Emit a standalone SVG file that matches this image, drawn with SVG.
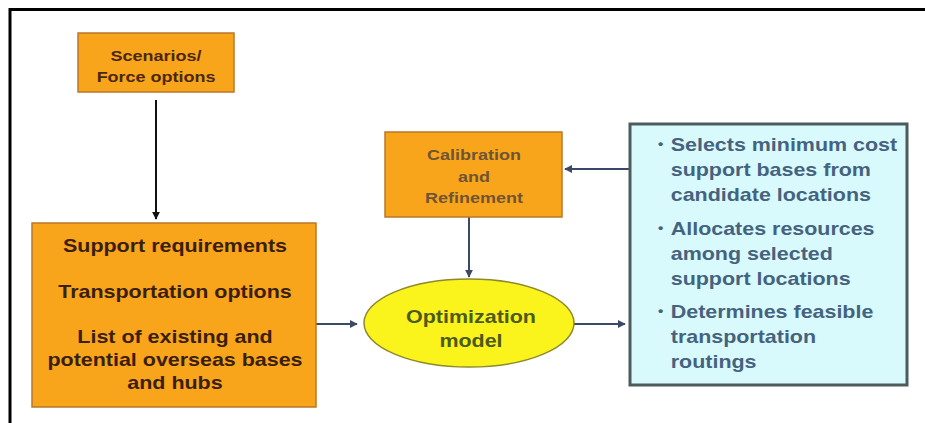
<svg xmlns="http://www.w3.org/2000/svg" width="925" height="423" viewBox="0 0 925 423">
<defs>
<style>
text{font-family:"Liberation Sans",Arial,sans-serif;font-weight:bold;text-anchor:middle}
.orange{fill:#f9a51c;stroke:#b9782a;stroke-width:1.5}
.t-brown{fill:#3a200c;font-size:18.5px}
.t-scen{fill:#4a2810;font-size:15.5px}
.t-cal{fill:#6e5434;font-size:15.5px}
.t-opt{fill:#4c5a1c;font-size:18.5px}
.t-blue{fill:#45627f;font-size:18.5px;text-anchor:start}
.bullet{fill:#45627f;font-size:13px;text-anchor:start}
.conn{stroke:#3b4866;stroke-width:2;fill:none}
.conn-k{stroke:#111;stroke-width:2;fill:none}
</style>
<marker id="ah" viewBox="0 0 10 10" refX="9" refY="5" markerWidth="4" markerHeight="4" orient="auto">
<path d="M0,0 L10,5 L0,10 z" fill="#3b4866"/>
</marker>
<marker id="ahk" viewBox="0 0 10 10" refX="9" refY="5" markerWidth="4" markerHeight="4" orient="auto">
<path d="M0,0 L10,5 L0,10 z" fill="#111"/>
</marker>
</defs>
<rect width="925" height="423" fill="#ffffff"/>
<path d="M10,423 L10,9.5 L925,9.5" fill="none" stroke="#000" stroke-width="3"/>

<g id="connectors">
<line class="conn-k" x1="156" y1="100" x2="156" y2="219" marker-end="url(#ahk)"/>
<line class="conn" x1="630" y1="169" x2="565" y2="169" marker-end="url(#ah)"/>
<line class="conn" x1="469" y1="217" x2="469" y2="277" marker-end="url(#ah)"/>
<line class="conn" x1="316" y1="324" x2="357" y2="324" marker-end="url(#ah)"/>
<line class="conn" x1="574" y1="324" x2="625" y2="324" marker-end="url(#ah)"/>
</g>

<g id="scenarios">
<rect class="orange" x="78" y="33" width="156" height="59"/>
<g transform="translate(156 0) scale(1.16 1)">
<text class="t-scen" x="0" y="61">Scenarios/</text>
<text class="t-scen" x="0" y="82">Force options</text>
</g>
</g>

<g id="inputs">
<rect class="orange" x="32" y="223" width="284" height="184" fill="#fca912"/>
<g transform="translate(175 0) scale(1.16 1)">
<text class="t-brown" x="0" y="252">Support requirements</text>
<text class="t-brown" x="0" y="298">Transportation options</text>
<text class="t-brown" x="0" y="343">List of existing and</text>
<text class="t-brown" x="0" y="366">potential overseas bases</text>
<text class="t-brown" x="0" y="389">and hubs</text>
</g>
</g>

<g id="calibration">
<rect class="orange" x="385" y="132" width="177" height="85" fill="#f6a128"/>
<g transform="translate(474 0) scale(1.16 1)">
<text class="t-cal" x="0" y="160">Calibration</text>
<text class="t-cal" x="0" y="182">and</text>
<text class="t-cal" x="0" y="203">Refinement</text>
</g>
</g>

<g id="optimization">
<ellipse cx="469" cy="323" rx="105" ry="44" fill="#fbf31c" stroke="#8d8a2a" stroke-width="1.5"/>
<g transform="translate(471 0) scale(1.16 1)">
<text class="t-opt" x="0" y="323">Optimization</text>
<text class="t-opt" x="0" y="347">model</text>
</g>
</g>

<g id="outputs">
<rect x="630" y="124" width="277" height="261" fill="#d9fafc" stroke="#4c5c5c" stroke-width="3"/>
<g transform="translate(658 0) scale(1.16 1)">
<text class="bullet" x="0" y="148">•</text>
<text class="t-blue" x="11" y="151">Selects minimum cost</text>
<text class="t-blue" x="11" y="176">support bases from</text>
<text class="t-blue" x="11" y="201">candidate locations</text>
<text class="bullet" x="0" y="232">•</text>
<text class="t-blue" x="11" y="235">Allocates resources</text>
<text class="t-blue" x="11" y="260">among selected</text>
<text class="t-blue" x="11" y="285">support locations</text>
<text class="bullet" x="0" y="315">•</text>
<text class="t-blue" x="11" y="318">Determines feasible</text>
<text class="t-blue" x="11" y="343">transportation</text>
<text class="t-blue" x="11" y="368">routings</text>
</g>
</g>
</svg>
